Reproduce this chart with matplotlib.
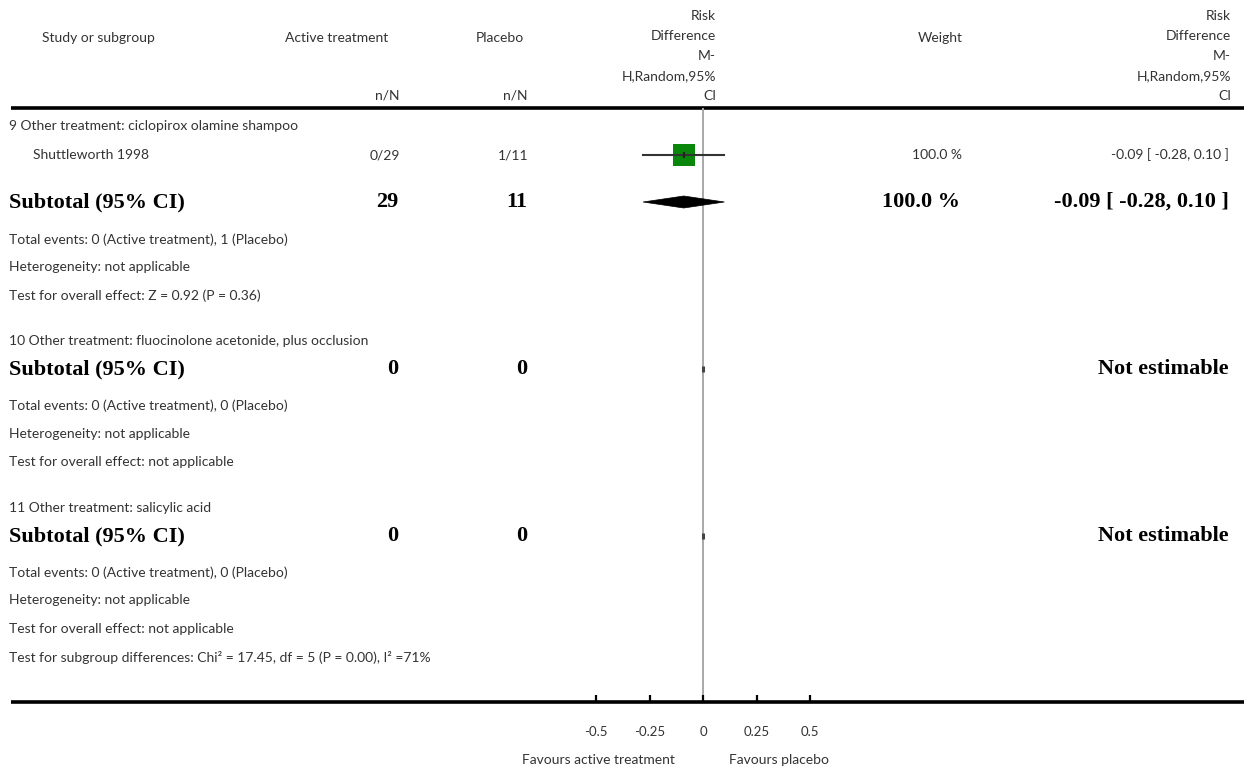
import matplotlib
import matplotlib.pyplot as plt
from matplotlib.patches import Polygon

# 数据
header_cols = ["Study or subgroup", "Active treatment", "Placebo", "Weight"]
rd_header = ["Risk", "Difference", "M-", "H,Random,95%", "CI"]

study_names = ["Shuttleworth 1998"]
study_active = ["0/29"]
study_placebo = ["1/11"]
study_weight = ["100.0 %"]
study_rd = [-0.09]
study_lo = [-0.28]
study_hi = [0.10]

group_titles = [
    "9 Other treatment: ciclopirox olamine shampoo",
    "10 Other treatment: fluocinolone acetonide, plus occlusion",
    "11 Other treatment: salicylic acid",
]
subtotal_active = ["29", "0", "0"]
subtotal_placebo = ["11", "0", "0"]
subtotal_weight = ["100.0 %", "", ""]
subtotal_text = ["-0.09 [ -0.28, 0.10 ]", "Not estimable", "Not estimable"]
subtotal_rd = [-0.09, None, None]
subtotal_lo = [-0.28, None, None]
subtotal_hi = [0.10, None, None]
total_events = [
    "Total events: 0 (Active treatment), 1 (Placebo)",
    "Total events: 0 (Active treatment), 0 (Placebo)",
    "Total events: 0 (Active treatment), 0 (Placebo)",
]
heterogeneity = ["Heterogeneity: not applicable"] * 3
overall_effect = [
    "Test for overall effect: Z = 0.92 (P = 0.36)",
    "Test for overall effect: not applicable",
    "Test for overall effect: not applicable",
]
subgroup_test = "Test for subgroup differences: Chi² = 17.45, df = 5 (P = 0.00), I² =71%"

tick_values = [-0.5, -0.25, 0, 0.25, 0.5]
tick_labels = ["-0.5", "-0.25", "0", "0.25", "0.5"]

# 版式（像素）
W, H = 1259, 768
X_ZERO, PX_PER_UNIT = 703, 214
HEADER_LINE_Y = 108
AXIS_Y = 702
group_rows = [
    {"title": 126, "studies": [155], "subtotal": 202, "events": 240, "het": 267, "overall": 296},
    {"title": 341, "studies": [], "subtotal": 369, "events": 406, "het": 434, "overall": 462},
    {"title": 508, "studies": [], "subtotal": 536, "events": 573, "het": 600, "overall": 629},
]
SUBGROUP_TEST_Y = 657

FONT_LIGHT = ["Lato", "DejaVu Sans"]
LIGHT = dict(family=FONT_LIGHT, fontweight="normal", fontsize=10, color="#333333")
BOLD = dict(family=["Liberation Serif", "DejaVu Serif"], fontweight="bold", fontsize=16, color="black")

figure = plt.figure(figsize=(W / 100, H / 100), dpi=100)

# 文本层：像素坐标
text_axis = figure.add_axes([0, 0, 1, 1])
text_axis.set_xlim(0, W)
text_axis.set_ylim(H, 0)
text_axis.axis("off")

# 森林图层：风险差坐标
forest_axis = figure.add_axes(
    [(X_ZERO - 0.5 * PX_PER_UNIT) / W, (H - AXIS_Y) / H, PX_PER_UNIT / W, (AXIS_Y - HEADER_LINE_Y) / H]
)
forest_axis.set_xlim(-0.5, 0.5)
forest_axis.set_ylim(AXIS_Y, HEADER_LINE_Y)
forest_axis.patch.set_alpha(0)
for spine in forest_axis.spines.values():
    spine.set_visible(False)
forest_axis.set_yticks([])
forest_axis.set_xticks(tick_values)
forest_axis.set_xticklabels(tick_labels, family=FONT_LIGHT, fontsize=9.5, color="#333333")
forest_axis.tick_params(axis="x", direction="in", length=5, width=1.6, pad=17, color="black")

# 表头
text_axis.text(98, 38, header_cols[0], ha="center", va="center", **LIGHT)
text_axis.text(337, 38, header_cols[1], ha="center", va="center", **LIGHT)
text_axis.text(500, 38, header_cols[2], ha="center", va="center", **LIGHT)
text_axis.text(940, 38, header_cols[3], ha="center", va="center", **LIGHT)
text_axis.text(400, 96, "n/N", ha="right", va="center", **LIGHT)
text_axis.text(528, 96, "n/N", ha="right", va="center", **LIGHT)
for i, line in enumerate(rd_header):
    y = 16 + i * 20
    text_axis.text(716, y, line, ha="right", va="center", **LIGHT)
    text_axis.text(1231, y, line, ha="right", va="center", **LIGHT)

text_axis.plot([11, 1244], [HEADER_LINE_Y, HEADER_LINE_Y], color="black", lw=2.6, solid_capstyle="butt")
text_axis.plot([11, 1244], [AXIS_Y, AXIS_Y], color="black", lw=2.6, solid_capstyle="butt")

# 零线
forest_axis.plot([0, 0], [HEADER_LINE_Y, AXIS_Y], color="#a8a8a8", lw=1.4, zorder=1)

# 各亚组
study_index = 0
for g, rows in enumerate(group_rows):
    text_axis.text(9, rows["title"], group_titles[g], ha="left", va="center", **LIGHT)
    for y in rows["studies"]:
        text_axis.text(33, y, study_names[study_index], ha="left", va="center", **LIGHT)
        text_axis.text(400, y, study_active[study_index], ha="right", va="center", **LIGHT)
        text_axis.text(528, y, study_placebo[study_index], ha="right", va="center", **LIGHT)
        text_axis.text(962, y, study_weight[study_index], ha="right", va="center", **LIGHT)
        rd, lo, hi = study_rd[study_index], study_lo[study_index], study_hi[study_index]
        text_axis.text(
            1229, y, f"{rd:.2f} [ {lo:.2f}, {hi:.2f} ]", ha="right", va="center", **LIGHT
        )
        forest_axis.plot([lo, hi], [y, y], color="#333333", lw=1.5, zorder=3)
        forest_axis.plot(rd, y, marker="s", markersize=16, color="#0a870a", markeredgewidth=0, zorder=2)
        forest_axis.plot(rd, y, marker="|", markersize=4, color="#222222", markeredgewidth=1.5, zorder=4)
        study_index += 1

    ys = rows["subtotal"]
    text_axis.text(9, ys, "Subtotal (95% CI)", ha="left", va="center", **BOLD)
    text_axis.text(398, ys, subtotal_active[g], ha="right", va="center", **BOLD)
    text_axis.text(527, ys, subtotal_placebo[g], ha="right", va="center", **BOLD)
    if subtotal_weight[g]:
        text_axis.text(960, ys, subtotal_weight[g], ha="right", va="center", **BOLD)
    text_axis.text(1229, ys, subtotal_text[g], ha="right", va="center", **BOLD)
    if subtotal_rd[g] is not None:
        diamond = Polygon(
            [(subtotal_lo[g], ys), (subtotal_rd[g], ys - 6), (subtotal_hi[g], ys), (subtotal_rd[g], ys + 6)],
            closed=True, facecolor="black", edgecolor="black", lw=0.5, zorder=3,
        )
        forest_axis.add_patch(diamond)
    else:
        forest_axis.plot(0, ys, marker="|", markersize=4.5, color="#444444", markeredgewidth=2.2, zorder=3)

    text_axis.text(9, rows["events"], total_events[g], ha="left", va="center", **LIGHT)
    text_axis.text(9, rows["het"], heterogeneity[g], ha="left", va="center", **LIGHT)
    text_axis.text(9, rows["overall"], overall_effect[g], ha="left", va="center", **LIGHT)

text_axis.text(9, SUBGROUP_TEST_Y, subgroup_test, ha="left", va="center", **LIGHT)

# 底部说明
text_axis.text(675, 760, "Favours active treatment", ha="right", va="center", **LIGHT)
text_axis.text(729, 760, "Favours placebo", ha="left", va="center", **LIGHT)

figure.savefig("out.png", dpi=100)
plt.close()
